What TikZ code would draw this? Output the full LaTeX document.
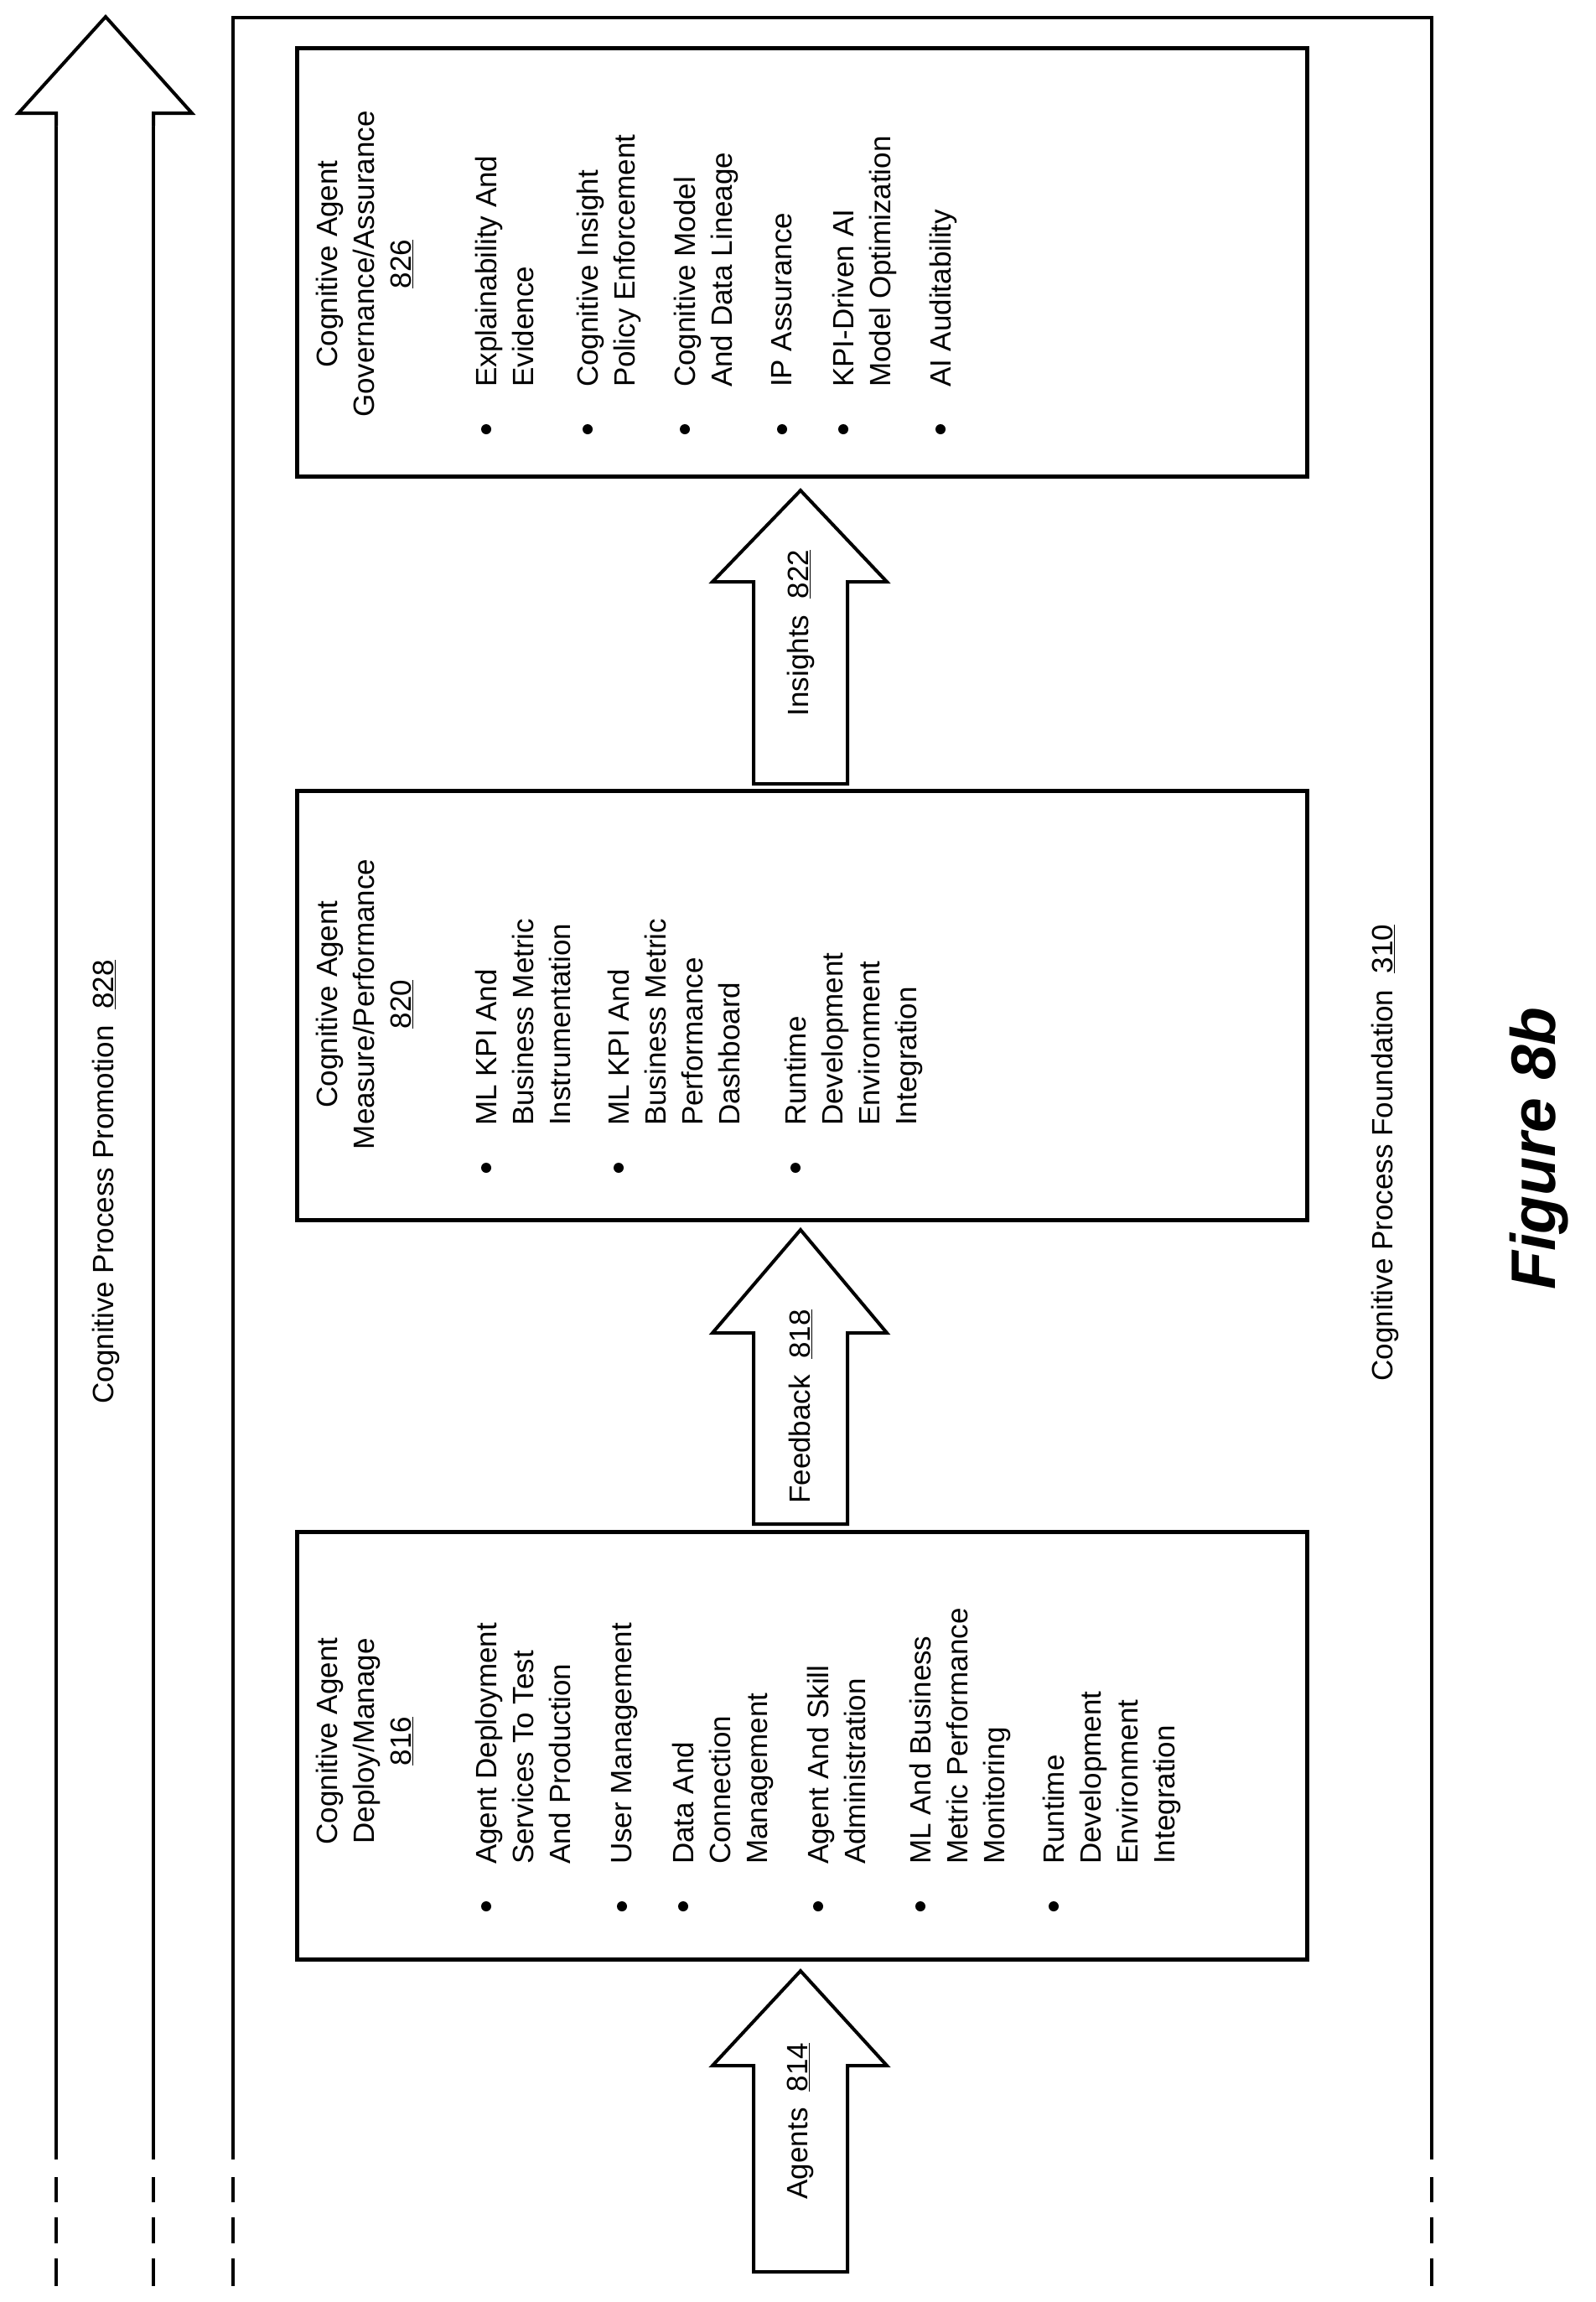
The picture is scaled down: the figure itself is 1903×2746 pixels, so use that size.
\documentclass[tikz,border=0pt]{standalone}
\usepackage{fontspec}
\setmainfont{Liberation Sans}
\begin{document}
\begin{tikzpicture}[x=1pt,y=-1pt,
  txt/.style={rotate=90,inner sep=0pt,font=\fontsize{35}{44}\selectfont,align=left},
  ttl/.style={rotate=90,inner sep=0pt,font=\fontsize{35}{44}\selectfont,align=center,anchor=north},
  box/.style={line width=5pt},
  ln/.style={line width=3.5pt},
  blk/.style={line width=4pt,line join=miter,fill=white}]
\useasboundingbox (0,0) rectangle (1903,2746);
% vertical lines with dashes
\foreach \x in {67,183,278,1708}{
  \draw[ln] (\x,135) -- (\x,2576);
  \draw[ln] (\x,2597) -- (\x,2627);
  \draw[ln] (\x,2645) -- (\x,2676);
  \draw[ln] (\x,2694) -- (\x,2727);
}
% outer frame top
\draw[ln] (278,2576) -- (278,21) -- (1708,21) -- (1708,2576);
% promotion arrow head
\draw[blk] (67,150) -- (67,135) -- (22,135) -- (126,20) -- (229,135) -- (183,135) -- (183,150);
\fill[white] (70,137) rectangle (180,160);
\node[txt] (prom) at (126,1410) {Cognitive Process Promotion\ \ \underline{828}};
\node[txt] (found) at (1652,1375) {Cognitive Process Foundation\ \ \underline{310}};
\node[rotate=90,inner sep=0pt,font=\fontsize{75}{80}\selectfont\bfseries\itshape] (fig) at (1836,1370) {Figure 8b};
% boxes
\draw[box] (354,58) rectangle (1559,568);
\draw[box] (354,943) rectangle (1559,1455);
\draw[box] (354,1827) rectangle (1559,2337);
% small arrows
\foreach \t/\b/\e in {585/694/935, 1467/1590/1818, 2351/2464/2710}{
  \draw[blk] (899,\e) -- (899,\b) -- (850,\b) -- (955,\t) -- (1058,\b) -- (1011,\b) -- (1011,\e) -- cycle;
}
\node[txt] (ins) at (955,755) {Insights\ \ \underline{822}};
\node[txt] (fb) at (955,1678) {Feedback\ \ \underline{818}};
\node[txt] (ag) at (955,2530) {Agents\ \ \underline{814}};
% box 826
\node[ttl] (t826) at (377,315) {Cognitive Agent\\Governance/Assurance\\\underline{826}};
\foreach \x/\t [count=\i] in {580/{Explainability And\\Evidence},701/{Cognitive Insight\\Policy Enforcement},817/{Cognitive Model\\And Data Lineage},933/{IP Assurance},1006/{KPI-Driven AI\\Model Optimization},1122/{AI Auditability}}{
  \fill (\x,512) circle (6);
  \node[txt,anchor=north west] (a\i) at (\x-13,462) {\t};
}
% box 820
\node[ttl] (t820) at (377,1198) {Cognitive Agent\\Measure/Performance\\\underline{820}};
\foreach \x/\t [count=\i] in {580/{ML KPI And\\Business Metric\\Instrumentation},738/{ML KPI And\\Business Metric\\Performance\\Dashboard},949/{Runtime\\Development\\Environment\\Integration}}{
  \fill (\x,1393) circle (6);
  \node[txt,anchor=north west] (b\i) at (\x-13,1343) {\t};
}
% box 816
\node[ttl] (t816) at (377,2077) {Cognitive Agent\\Deploy/Manage\\\underline{816}};
\foreach \x/\t [count=\i] in {580/{Agent Deployment\\Services To Test\\And Production},742/{User Management},815/{Data And\\Connection\\Management},976/{Agent And Skill\\Administration},1098/{ML And Business\\Metric Performance\\Monitoring},1257/{Runtime\\Development\\Environment\\Integration}}{
  \fill (\x,2274) circle (6);
  \node[txt,anchor=north west] (c\i) at (\x-13,2224) {\t};
}
\end{tikzpicture}
\end{document}
